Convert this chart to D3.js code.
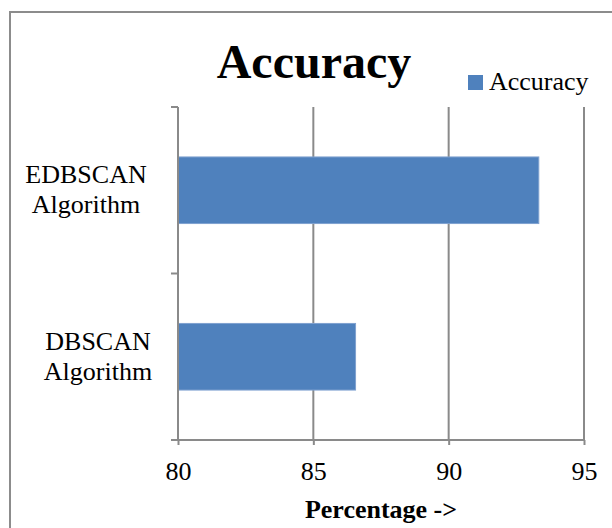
<!DOCTYPE html>
<html>
<head>
<meta charset="utf-8">
<script src="https://cdn.jsdelivr.net/npm/d3@7"></script>
<style>
  body { margin: 0; background: #fff; }
  text { font-family: "Liberation Serif", "Times New Roman", serif; fill: #000; }
</style>
</head>
<body>
<script>
// chart data
var categories = ["EDBSCAN Algorithm", "DBSCAN Algorithm"];
var accuracy = [93.33, 86.56];
var xTicks = [80, 85, 90, 95];
var seriesName = "Accuracy";

var W = 612, H = 528;
var margin = {top: 107, right: 28, bottom: 88, left: 178},
    width = W - margin.left - margin.right,
    height = H - margin.top - margin.bottom;

var svg = d3.select("body").append("svg")
    .attr("width", W)
    .attr("height", H);

// outer frame
svg.append("rect")
    .attr("x", 10).attr("y", 12)
    .attr("width", 620).attr("height", 540)
    .style("fill", "none")
    .style("stroke", "#8c8c8c")
    .style("stroke-width", 2);

var g = svg.append("g")
    .attr("transform", "translate(" + margin.left + "," + margin.top + ")");

// scales
var xScale = d3.scaleLinear().domain([80, 95]).range([0, width]);
var yScale = d3.scaleBand().domain(categories).range([0, height]).paddingInner(0.6).paddingOuter(0.3);
var yBand = d3.scaleBand().domain(categories).range([0, height]);

// gridlines
g.selectAll(".grid")
    .data(xTicks.slice(1))
    .enter().append("line")
    .attr("x1", function(d) { return xScale(d); })
    .attr("x2", function(d) { return xScale(d); })
    .attr("y1", 0).attr("y2", height)
    .style("stroke", "#8a8a8a")
    .style("stroke-width", 2);

// bars
g.selectAll(".bar")
    .data(accuracy)
    .enter().append("rect")
    .attr("x", 0)
    .attr("y", function(d, i) { return yScale(categories[i]); })
    .attr("width", function(d) { return xScale(d) - xScale(80); })
    .attr("height", yScale.bandwidth())
    .style("fill", "#4f81bd")
    .style("stroke", "#7fa1cf")
    .style("stroke-width", 1);

// x axis
var xaxis = d3.axisBottom(xScale).tickValues(xTicks).tickSize(5).tickPadding(10);
var xg = g.append("g")
    .attr("transform", "translate(0," + height + ")")
    .attr("font-family", "Liberation Serif")
    .call(xaxis);
xg.select(".domain").remove();
xg.append("line").attr("x1", -7).attr("x2", width).style("stroke", "#8a8a8a").style("stroke-width", 2);
xg.selectAll(".tick line").style("stroke", "#8a8a8a").style("stroke-width", 2);
xg.selectAll(".tick text")
    .style("font-family", "'Liberation Serif', serif")
    .style("font-size", "26px")
    .attr("dy", "0.95em");

// y axis (category ticks at band boundaries)
g.append("line").attr("x1", 0).attr("x2", 0).attr("y1", 0).attr("y2", height)
    .style("stroke", "#8a8a8a").style("stroke-width", 2);
g.selectAll(".ytick")
    .data(categories)
    .enter().append("line")
    .attr("x1", -7).attr("x2", 0)
    .attr("y1", function(d) { return yBand(d); })
    .attr("y2", function(d) { return yBand(d); })
    .style("stroke", "#8a8a8a").style("stroke-width", 2);

// category labels (two lines, centred)
var labelX = [-92, -80];
categories.forEach(function(c, i) {
    var words = c.split(" ");
    var cy = yScale(c) + yScale.bandwidth() / 2;
    var t = g.append("text")
        .attr("text-anchor", "middle")
        .style("font-size", "26px");
    words.forEach(function(w, j) {
        t.append("tspan")
            .attr("x", labelX[i])
            .attr("y", cy + (j - 0.5) * 30 + 8)
            .text(w);
    });
});

// title
svg.append("text")
    .attr("x", 314).attr("y", 78)
    .attr("text-anchor", "middle")
    .style("font-size", "48px")
    .style("font-weight", "bold")
    .text("Accuracy");

// legend
svg.append("rect")
    .attr("x", 468).attr("y", 75)
    .attr("width", 15).attr("height", 15)
    .style("fill", "#4f81bd");
svg.append("text")
    .attr("x", 489).attr("y", 90)
    .style("font-size", "26px")
    .text(seriesName);

// axis title
svg.append("text")
    .attr("x", 381).attr("y", 518)
    .attr("text-anchor", "middle")
    .style("font-size", "26px")
    .style("font-weight", "bold")
    .text("Percentage ->");
</script>
</body>
</html>
